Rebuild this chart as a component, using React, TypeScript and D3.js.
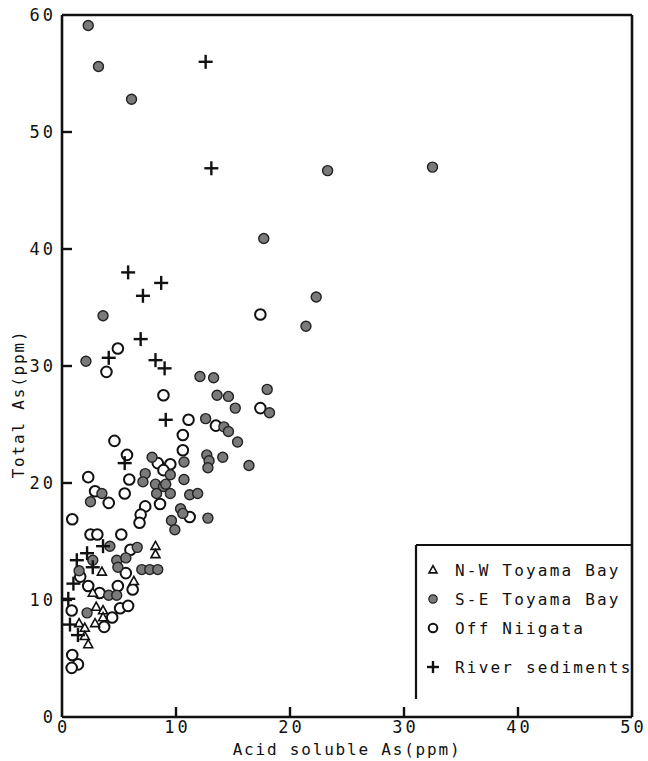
import React from "react";
import * as d3 from "d3";

const nwToyama: [number, number][] = [
  [8.2, 14.6], [8.2, 13.9], [3.5, 12.4], [6.3, 11.6], [2.7, 10.6],
  [3.0, 9.4], [3.6, 9.1], [3.6, 8.5], [2.9, 8.0],
  [1.5, 8.0], [2.0, 7.6], [2.0, 6.9], [2.3, 6.2],
];

const seToyama: [number, number][] = [
  [2.3, 59.1], [3.2, 55.6], [6.1, 52.8], [23.3, 46.7], [32.5, 47.0], [17.7, 40.9],
  [22.3, 35.9], [21.4, 33.4], [3.6, 34.3], [2.1, 30.4],
  [12.1, 29.1], [13.3, 29.0], [13.6, 27.5], [14.6, 27.4], [15.2, 26.4], [18.0, 28.0],
  [18.2, 26.0], [12.6, 25.5], [14.2, 24.8], [14.6, 24.4], [15.4, 23.5], [12.7, 22.4],
  [12.9, 21.9], [12.8, 21.3], [14.1, 22.2], [16.4, 21.5],
  [7.9, 22.2], [7.3, 20.8], [7.1, 20.1], [8.2, 19.9], [8.9, 19.7], [9.1, 19.9],
  [8.3, 19.1], [9.5, 19.1], [9.5, 20.7], [10.7, 21.8], [10.7, 20.3], [11.2, 19.0],
  [11.9, 19.1], [10.4, 17.8], [10.6, 17.4], [12.8, 17.0], [9.6, 16.8], [9.9, 16.0],
  [3.5, 19.1], [2.5, 18.4], [4.2, 14.6], [6.6, 14.5],
  [2.7, 13.4], [4.8, 13.4], [5.6, 13.6], [4.9, 12.8], [1.5, 12.5],
  [7.0, 12.6], [7.7, 12.6], [8.4, 12.6], [4.1, 10.4], [4.8, 10.4], [2.2, 8.9],
];

const offNiigata: [number, number][] = [
  [17.4, 34.4], [4.9, 31.5], [3.9, 29.5], [8.9, 27.5], [17.4, 26.4], [11.1, 25.4],
  [13.5, 24.9], [10.6, 24.1], [4.6, 23.6], [10.6, 22.8], [5.7, 22.4], [8.4, 21.7],
  [9.5, 21.6], [8.9, 21.1], [2.3, 20.5], [5.9, 20.3], [2.9, 19.3], [5.5, 19.1],
  [4.1, 18.3], [8.6, 18.2], [7.3, 18.0], [6.9, 17.3], [11.2, 17.1], [0.9, 16.9],
  [6.8, 16.6], [2.5, 15.6], [3.1, 15.6], [5.2, 15.6], [6.0, 14.3], [5.6, 12.3],
  [1.6, 12.0], [6.2, 10.9], [2.3, 11.2], [3.3, 10.6], [4.9, 11.2], [0.85, 9.1],
  [5.1, 9.3], [5.8, 9.5], [4.4, 8.5], [3.7, 7.7], [0.9, 5.3], [1.4, 4.5], [0.85, 4.2],
];

const riverSediments: [number, number][] = [
  [12.6, 56.0], [13.1, 46.9], [5.8, 38.0], [8.7, 37.1], [7.1, 36.0], [6.9, 32.3],
  [4.1, 30.7], [8.2, 30.5], [9.0, 29.8], [9.1, 25.4], [5.5, 21.7], [3.6, 14.6],
  [2.2, 14.0], [1.3, 13.4], [2.7, 12.8], [1.0, 11.4], [0.55, 10.1], [0.7, 7.9], [1.4, 7.0],
];

const xTicks = [0, 10, 20, 30, 40, 50];
const yTicks = [0, 10, 20, 30, 40, 50, 60];
const legendLabels = ["N-W Toyama Bay", "S-E Toyama Bay", "Off Niigata", "River sediments"];

const W = 648;
const H = 761;
const FONT = "'DejaVu Sans Mono', 'Liberation Mono', monospace";

function Triangle({ cx, cy, s }: { cx: number; cy: number; s: number }) {
  const h = s * 0.9;
  const path = `M${cx},${cy - h * 0.6} L${cx + s / 2},${cy + h * 0.4} L${cx - s / 2},${cy + h * 0.4} Z`;
  return <path d={path} fill="white" stroke="#111" strokeWidth={1.6} />;
}

function Cross({ cx, cy, s }: { cx: number; cy: number; s: number }) {
  return (
    <g stroke="#111" strokeWidth={2.4}>
      <line x1={cx - s} x2={cx + s} y1={cy} y2={cy} />
      <line x1={cx} x2={cx} y1={cy - s} y2={cy + s} />
    </g>
  );
}

export default function App() {
  const x = d3.scaleLinear().domain([0, 50]).range([62, 632]);
  const y = d3.scaleLinear().domain([0, 60]).range([717, 15]);

  const lx = 433;
  const legendY = [570, 599, 628, 667];

  return (
    <svg
      width={W}
      height={H}
      style={{ position: "absolute", left: 0, top: 0, background: "white" }}
      fontFamily={FONT}
    >
      <rect width={W} height={H} fill="white" />
      {/* frame */}
      <g stroke="#111" strokeWidth={2.6} fill="none">
        <line x1={x(0)} x2={x(50)} y1={y(60)} y2={y(60)} />
        <line x1={x(0)} x2={x(50)} y1={y(0)} y2={y(0)} />
        <line x1={x(0)} x2={x(0)} y1={y(60)} y2={y(0)} />
        <line x1={x(50)} x2={x(50)} y1={y(60)} y2={y(0)} />
      </g>
      {/* ticks */}
      <g stroke="#111" strokeWidth={2.4}>
        {yTicks.slice(1, -1).map((t) => (
          <line key={"yt" + t} x1={x(0)} x2={x(0) + 10} y1={y(t)} y2={y(t)} />
        ))}
        {xTicks.slice(1, -1).map((t) => (
          <line key={"xt" + t} x1={x(t)} x2={x(t)} y1={y(0)} y2={y(0) - 10} />
        ))}
      </g>
      <g fontSize={17} fill="#111">
        {yTicks.map((t) => (
          <text key={"yl" + t} x={x(0) - 6} y={y(t)} dy="0.35em" textAnchor="end" letterSpacing={3}>
            {t}
          </text>
        ))}
        {xTicks.map((t) => (
          <text key={"xl" + t} x={x(t) + 1.5} y={y(0) + 16} textAnchor="middle" letterSpacing={3}>
            {t}
          </text>
        ))}
      </g>
      <text x={347} y={755} textAnchor="middle" fontSize={16} letterSpacing={1.8} fill="#111">
        Acid soluble As(ppm)
      </text>
      <text
        transform={`translate(24,${404}) rotate(-90)`}
        textAnchor="middle"
        fontSize={16}
        letterSpacing={1.8}
        fill="#111"
      >
        Total As(ppm)
      </text>

      {/* data */}
      <g>
        {offNiigata.map(([a, b], i) => (
          <circle key={"o" + i} cx={x(a)} cy={y(b)} r={5.3} fill="white" stroke="#111" strokeWidth={2} />
        ))}
        {seToyama.map(([a, b], i) => (
          <circle key={"s" + i} cx={x(a)} cy={y(b)} r={5} fill="#7a7a7a" stroke="#222" strokeWidth={1.4} />
        ))}
        {nwToyama.map(([a, b], i) => (
          <Triangle key={"t" + i} cx={x(a)} cy={y(b)} s={9} />
        ))}
        {riverSediments.map(([a, b], i) => (
          <Cross key={"c" + i} cx={x(a)} cy={y(b)} s={7} />
        ))}
      </g>

      {/* legend */}
      <g stroke="#111" strokeWidth={2.2} fill="none">
        <line x1={416} x2={x(50)} y1={545} y2={545} />
        <line x1={416} x2={416} y1={545} y2={699} />
      </g>
      <Triangle cx={lx} cy={legendY[0]} s={8} />
      <circle cx={lx} cy={legendY[1]} r={4.2} fill="#7a7a7a" stroke="#222" strokeWidth={1.2} />
      <circle cx={lx} cy={legendY[2]} r={4.3} fill="white" stroke="#111" strokeWidth={2} />
      <Cross cx={lx} cy={legendY[3]} s={6} />
      <g fontSize={16} letterSpacing={2.2} fill="#111">
        {legendLabels.map((l, i) => (
          <text key={l} x={455} y={legendY[i]} dy="0.35em">
            {l}
          </text>
        ))}
      </g>
    </svg>
  );
}
